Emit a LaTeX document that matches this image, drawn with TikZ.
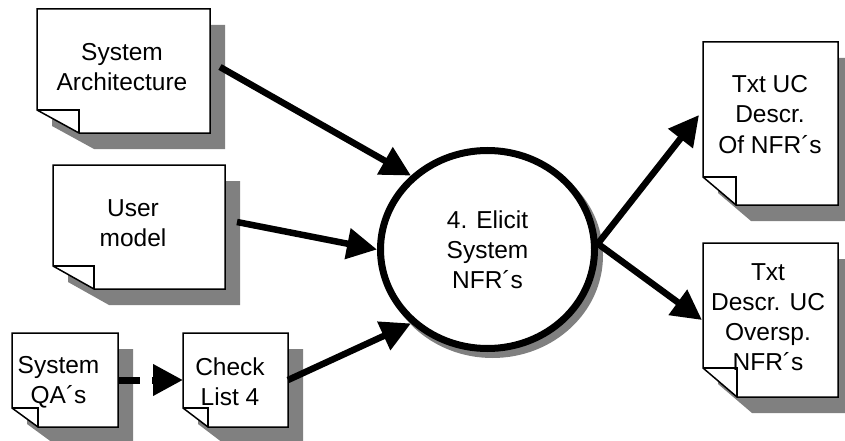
\documentclass[tikz,border=0pt]{standalone}
\usepackage{fontspec}
\setmainfont{Liberation Sans}
\usetikzlibrary{arrows.meta,shapes.geometric}
\definecolor{shadowgray}{RGB}{128,128,128}

\tikzset{
  labeltext/.style={align=center, font=\fontsize{24.5}{30}\selectfont, inner sep=0pt},
  % anchored at the baseline of the last line
  doctext/.style={labeltext, anchor=base},
  docline/.style={line width=1.5pt, line join=miter},
  flowhead/.style={-{Triangle[length=30pt,width=30pt]}},
  flow/.style={line width=6.5pt, flowhead},
}

% Paper sheet with its lower left corner turned up and a drop shadow.
% #1 name, #2 left, #3 top, #4 right, #5 bottom, #6 fold width, #7 fold height
\newcommand{\papersheet}[7]{%
  \fill[shadowgray, shift={(15,16)}]
    (#2,#3) -- (#4,#3) -- (#4,#5) -- ({#2+#6},#5) -- (#2,{#5-#7}) -- cycle;
  \node[minimum width={(#4-#2)*1pt}, minimum height={(#5-#3)*1pt},
        inner sep=0pt, outer sep=0pt] (#1) at ({(#2+#4)/2},{(#3+#5)/2}) {};
  \filldraw[docline, fill=white]
    (#2,#3) -- (#4,#3) -- (#4,#5) -- ({#2+#6},#5) -- (#2,{#5-#7}) -- cycle;
  \draw[docline] (#2,{#5-#7}) -- ({#2+#6},{#5-#7}) -- ({#2+#6},#5);
}

\begin{document}
\begin{tikzpicture}[x=1pt, y=-1pt]
\useasboundingbox (0,0) rectangle (845,441);

% input and output documents
\papersheet{arch}{37}{9}{210}{133}{42}{23}
\papersheet{user}{53}{165}{225}{289}{41}{23}
\papersheet{qa}{12}{333}{118}{427}{26}{19}
\papersheet{check}{183}{333}{288}{427}{25}{19}
\papersheet{txtuc}{703}{42}{838}{205}{33}{28}
\papersheet{descr}{703}{243}{838}{397}{34}{29}

\node[doctext] (archtext)  at (122,90.7) {System\\Architecture};
\node[doctext] (usertext)  at (133,246) {User\\model};
\node[doctext] (qatext)    at (58.5,403) {System\\QA´s};
\node[doctext] (checktext) at (230,405) {Check\\List 4};
\node[doctext] (txtuctext) at (770,153) {Txt UC\\Descr.\\Of NFR´s};
\node[doctext] (descrtext) at (768,370) {Txt\\Descr. UC\\Oversp.\\NFR´s};

% process bubble with its shadow
\node[ellipse, fill=shadowgray, minimum width=221pt, minimum height=205pt,
      inner sep=0pt] (elicitshadow) at (492.5,255.5) {};
\node[ellipse, draw, fill=white, line width=7pt, minimum width=214pt,
      minimum height=198pt, inner sep=0pt, labeltext] (elicit)
      at (487.5,249.5) {4. Elicit\\System\\NFR´s};

% data flows
\draw[flow] ([shift={(10,-4)}]arch.east) -- (elicit.136);
\draw[flow] ([shift={(12,-5)}]user.east) -- (elicit.west);
\draw[flow] (check.east) -- (elicit.224);
\draw[flow] (elicit.3) -- ([shift={(-4,-8.5)}]txtuc.west);
\draw[flow] (elicit.3) -- ([xshift=-1pt]descr.west);
% the shaft stops short of its head
\draw[line width=7pt, shorten >=43pt] (qa.east) -- (check.west);
\draw[line width=7pt, flowhead] ([xshift=-31pt]check.west) -- (check.west);
\end{tikzpicture}
\end{document}
